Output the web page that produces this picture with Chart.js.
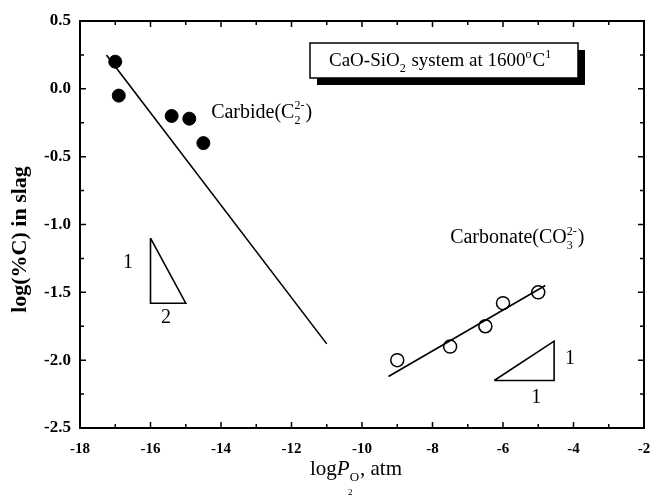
<!DOCTYPE html>
<html>
<head>
<meta charset="utf-8">
<script src="https://cdn.jsdelivr.net/npm/chart.js@4.4.1/dist/chart.umd.min.js"></script>
<style>
  html, body { margin: 0; padding: 0; background: #fff; }
  #wrap { width: 653px; height: 496px; }
</style>
</head>
<body>
<div id="wrap"><canvas id="chart" width="653" height="496"></canvas></div>
<script>
// measured points
const carbideX = [-17.0, -16.9, -15.4, -14.9, -14.5];
const carbideY = [0.2, -0.05, -0.2, -0.22, -0.4];
const carbonateX = [-9.0, -7.5, -6.5, -6.0, -5.0];
const carbonateY = [-2.0, -1.9, -1.75, -1.58, -1.5];

// fitted lines (end points)
const carbideFitX = [-17.25, -11.0];
const carbideFitY = [0.25, -1.88];
const carbonateFitX = [-9.25, -4.8];
const carbonateFitY = [-2.12, -1.45];

// slope triangles
const slopeHalfX = [-16, -16, -15, -16];
const slopeHalfY = [-1.1, -1.58, -1.58, -1.1];
const slopeOneX = [-6.25, -4.55, -4.55, -6.25];
const slopeOneY = [-2.15, -2.15, -1.86, -2.15];

// axis ticks
const xTickValues = [-18, -16, -14, -12, -10, -8, -6, -4, -2];
const yTickValues = [0.5, 0.0, -0.5, -1.0, -1.5, -2.0, -2.5];

const SERIF = '"Liberation Serif", "DejaVu Serif", serif';

function pts(xs, ys) {
    return xs.map((x, i) => ({ x: x, y: ys[i] }));
}

// draw a run of text pieces; a piece may carry a stacked sub/sup pair
function drawRich(ctx, x, y, parts, size) {
    const small = Math.round(size * 0.62);
    parts.forEach(p => {
        if (typeof p === 'string') {
            ctx.font = size + 'px ' + SERIF;
            ctx.fillText(p, x, y);
            x += ctx.measureText(p).width;
            return;
        }
        if (p.italic) {
            ctx.font = 'italic ' + size + 'px ' + SERIF;
            ctx.fillText(p.italic, x, y);
            x += ctx.measureText(p.italic).width;
            return;
        }
        ctx.font = small + 'px ' + SERIF;
        let w = 0;
        if (p.sub) {
            ctx.fillText(p.sub, x, y + size * 0.3);
            w = Math.max(w, ctx.measureText(p.sub).width);
        }
        if (p.sup) {
            ctx.fillText(p.sup, x, y - size * 0.42);
            w = Math.max(w, ctx.measureText(p.sup).width);
        }
        x += w + 1;
    });
}

const annotations = {
    id: 'annotations',
    afterDraw(chart) {
        const ctx = chart.ctx;
        const area = chart.chartArea;
        const xs = chart.scales.x;
        const ys = chart.scales.y;
        ctx.save();

        // frame
        ctx.strokeStyle = '#000';
        ctx.lineWidth = 2;
        ctx.strokeRect(area.left, area.top, area.right - area.left, area.bottom - area.top);

        // inward ticks on all four sides, minor ticks halfway between majors
        ctx.lineWidth = 1.5;
        const major = 6, minor = 4;
        const xt = xs.ticks.map(t => t.value);
        const yt = ys.ticks.map(t => t.value);
        const tick = (v, len, axis) => {
            ctx.beginPath();
            if (axis === 'x') {
                const p = xs.getPixelForValue(v);
                ctx.moveTo(p, area.bottom); ctx.lineTo(p, area.bottom - len);
                ctx.moveTo(p, area.top); ctx.lineTo(p, area.top + len);
            } else {
                const p = ys.getPixelForValue(v);
                ctx.moveTo(area.left, p); ctx.lineTo(area.left + len, p);
                ctx.moveTo(area.right, p); ctx.lineTo(area.right - len, p);
            }
            ctx.stroke();
        };
        xt.forEach((v, i) => {
            tick(v, major, 'x');
            if (i < xt.length - 1) tick((v + xt[i + 1]) / 2, minor, 'x');
        });
        yt.forEach((v, i) => {
            tick(v, major, 'y');
            if (i < yt.length - 1) tick((v + yt[i + 1]) / 2, minor, 'y');
        });

        // title box with drop shadow
        const bx = area.left + 230, by = area.top + 22, bw = 268, bh = 35;
        ctx.fillStyle = '#000';
        ctx.fillRect(bx + 7, by + 7, bw, bh);
        ctx.fillStyle = '#fff';
        ctx.fillRect(bx, by, bw, bh);
        ctx.lineWidth = 1.5;
        ctx.strokeRect(bx, by, bw, bh);
        ctx.fillStyle = '#000';
        ctx.textBaseline = 'alphabetic';
        ctx.textAlign = 'left';
        drawRich(ctx, bx + 19, by + 23, ['CaO-SiO', { sub: '2' }, ' system at 1600', { sup: 'o' }, 'C', { sup: '1' }], 19);

        // series labels
        drawRich(ctx, xs.getPixelForValue(-14.28), ys.getPixelForValue(-0.213),
            ['Carbide(C', { sub: '2', sup: '2-' }, ')'], 20);
        drawRich(ctx, xs.getPixelForValue(-7.5), ys.getPixelForValue(-1.136),
            ['Carbonate(CO', { sub: '3', sup: '2-' }, ')'], 20);

        // slope numbers
        ctx.font = '20px ' + SERIF;
        ctx.textAlign = 'center';
        ctx.textBaseline = 'middle';
        ctx.fillText('1', xs.getPixelForValue(-16.64), ys.getPixelForValue(-1.284));
        ctx.fillText('2', xs.getPixelForValue(-15.56), ys.getPixelForValue(-1.689));
        ctx.fillText('1', xs.getPixelForValue(-4.10), ys.getPixelForValue(-1.99));
        ctx.fillText('1', xs.getPixelForValue(-5.06), ys.getPixelForValue(-2.279));

        // axis titles
        ctx.save();
        ctx.translate(20, (area.top + area.bottom) / 2 + 15);
        ctx.rotate(-Math.PI / 2);
        ctx.font = 'bold 22px ' + SERIF;
        ctx.textAlign = 'center';
        ctx.textBaseline = 'middle';
        ctx.fillText('log(%C) in slag', 0, 0);
        ctx.restore();

        ctx.textAlign = 'left';
        ctx.textBaseline = 'alphabetic';
        drawRich(ctx, 310, 475, ['log', { italic: 'P' }, { sub: 'O' }, ', atm'], 21);
        ctx.font = '9px ' + SERIF;
        ctx.fillText('2', 348, 495);

        ctx.restore();
    }
};

const lineStyle = {
    showLine: true,
    borderColor: '#000',
    borderWidth: 1.6,
    pointRadius: 0,
    fill: false
};

new Chart(document.getElementById('chart'), {
    type: 'scatter',
    data: {
        datasets: [
            Object.assign({ label: 'Carbide fit', data: pts(carbideFitX, carbideFitY) }, lineStyle),
            Object.assign({ label: 'Carbonate fit', data: pts(carbonateFitX, carbonateFitY) }, lineStyle),
            Object.assign({ label: 'Slope 1/2', data: pts(slopeHalfX, slopeHalfY) }, lineStyle),
            Object.assign({ label: 'Slope 1', data: pts(slopeOneX, slopeOneY) }, lineStyle),
            {
                label: 'Carbide',
                data: pts(carbideX, carbideY),
                pointRadius: 6.5,
                pointBackgroundColor: '#000',
                pointBorderColor: '#000',
                pointBorderWidth: 1
            },
            {
                label: 'Carbonate',
                data: pts(carbonateX, carbonateY),
                pointRadius: 6.5,
                pointBackgroundColor: 'rgba(0,0,0,0)',
                pointBorderColor: '#000',
                pointBorderWidth: 1.5
            }
        ]
    },
    options: {
        responsive: false,
        animation: false,
        layout: { padding: { left: 0, top: 21, right: 0, bottom: 0 } },
        plugins: {
            legend: { display: false },
            tooltip: { enabled: false }
        },
        scales: {
            x: {
                type: 'linear',
                min: -18,
                max: -2,
                afterBuildTicks: s => { s.ticks = xTickValues.map(v => ({ value: v })); },
                afterFit: s => { s.height = 68; s.paddingRight = 9; },
                grid: { display: false, drawTicks: false },
                border: { display: false },
                ticks: {
                    color: '#000',
                    padding: 12,
                    maxRotation: 0,
                    font: { family: SERIF, size: 15, weight: 'bold' },
                    callback: v => String(v)
                }
            },
            y: {
                type: 'linear',
                min: -2.5,
                max: 0.5,
                afterBuildTicks: s => { s.ticks = yTickValues.map(v => ({ value: v })); },
                afterFit: s => { s.width = 80; },
                grid: { display: false, drawTicks: false },
                border: { display: false },
                ticks: {
                    color: '#000',
                    padding: 9,
                    font: { family: SERIF, size: 17, weight: 'bold' },
                    callback: v => v.toFixed(1)
                }
            }
        }
    },
    plugins: [annotations]
});
</script>
</body>
</html>
